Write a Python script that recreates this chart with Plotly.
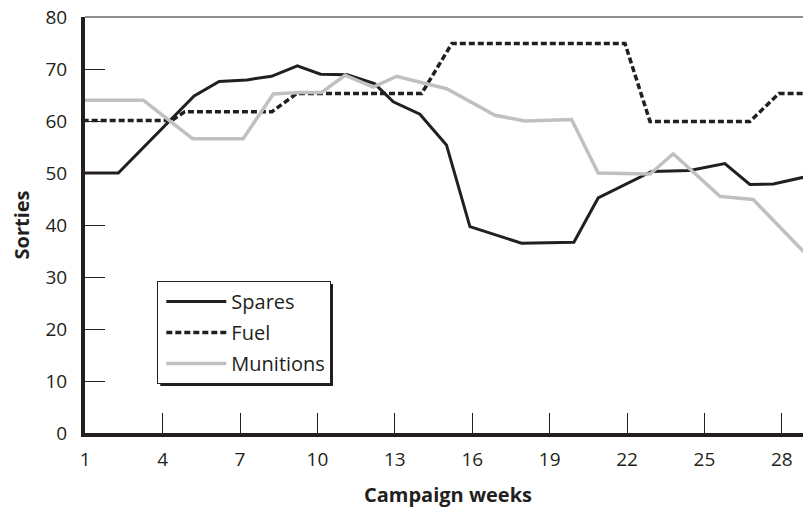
"""Sorties by campaign week under spares, fuel and munitions constraints."""
import plotly.graph_objects as go

# values (week positions of the line vertices)
spares_weeks = [0.9, 2.28, 5.22, 6.19, 7.26, 8.22, 9.22, 10.12, 11.16, 12.21, 12.94,
                13.97, 15.0, 15.91, 17.91, 19.94, 20.88, 22.95, 24.43, 25.79, 26.76,
                27.67, 29.13]
spares = [50.0, 50.0, 64.8, 67.6, 67.9, 68.6, 70.6, 69.0, 68.9, 67.2, 63.7,
          61.3, 55.4, 39.7, 36.5, 36.7, 45.2, 50.3, 50.5, 51.8, 47.8,
          47.9, 49.5]

fuel_weeks = [0.9, 4.36, 4.86, 8.24, 9.2, 14.04, 15.21, 21.92, 22.89, 26.76,
              27.89, 29.13]
fuel = [60.1, 60.1, 61.8, 61.8, 65.3, 65.3, 74.9, 74.9, 59.9, 59.9,
        65.3, 65.3]

munitions_weeks = [0.9, 3.25, 5.16, 7.12, 8.29, 9.32, 10.16, 11.07, 12.16, 13.07,
                   14.1, 15.01, 16.88, 18.04, 19.85, 20.88, 22.89, 23.79, 25.6,
                   26.89, 29.13]
munitions = [64.0, 64.0, 56.6, 56.6, 65.2, 65.5, 65.5, 68.8, 66.5, 68.6,
             67.3, 66.2, 61.1, 60.0, 60.3, 50.0, 49.8, 53.7, 45.5,
             44.9, 33.4]

week_ticks = list(range(1, 29, 3))
sortie_ticks = list(range(0, 81, 10))

INK = "#231f20"
GREY = "#bfc0c2"
FONT = "Open Sans"

fig = go.Figure()
fig.add_trace(go.Scatter(
    x=spares_weeks, y=spares, name="Spares", mode="lines",
    line=dict(color=INK, width=3), legendgroup="a",
))
fig.add_trace(go.Scatter(
    x=fuel_weeks, y=fuel, name="Fuel", mode="lines",
    line=dict(color=INK, width=3.5, dash="6px,3px"), legendgroup="b",
))
fig.add_trace(go.Scatter(
    x=munitions_weeks, y=munitions, name="Munitions", mode="lines",
    line=dict(color=GREY, width=3.5), legendgroup="c",
))

# thin frame line along the top of the plot area
fig.add_shape(type="line", xref="paper", yref="paper", x0=0, x1=1, y0=1, y1=1,
              line=dict(color=INK, width=1))
# drop shadow behind the legend box
fig.add_shape(type="rect", xref="paper", yref="paper",
              x0=0.1037, x1=0.3416, y0=0.113, y1=0.3582,
              line=dict(width=0), fillcolor=INK, layer="above")

# the page adds an 8px body margin; keep the figure small enough to avoid scrollbars
fig.update_layout(
    width=803, height=500,
    margin=dict(l=77, r=0, t=9, b=75),
    paper_bgcolor="white", plot_bgcolor="white",
    font=dict(family=FONT, size=19, color=INK),
    showlegend=True,
    legend=dict(
        x=0.0996, y=0.3654, xanchor="left", yanchor="top",
        bgcolor="white", bordercolor=INK, borderwidth=1,
        itemwidth=60, tracegroupgap=2, traceorder="grouped", indentation=3,
        font=dict(family=FONT, size=20, color=INK),
    ),
    xaxis=dict(
        range=[0.99, 29.13], tickvals=week_ticks, automargin=False,
        ticks="inside", ticklen=20, tickwidth=1, tickcolor=INK,
        showline=True, linewidth=3.5, linecolor=INK,
        showgrid=False, zeroline=False, ticklabelstandoff=6,
        ticklabeloverflow="allow",
        title=dict(text="<b>Campaign weeks</b>", standoff=20,
                   font=dict(family=FONT, size=20, color=INK)),
    ),
    yaxis=dict(
        range=[0, 80], tickvals=sortie_ticks, automargin=False,
        ticks="inside", ticklen=20, tickwidth=1, tickcolor=INK,
        showline=True, linewidth=4, linecolor=INK,
        showgrid=False, zeroline=False, ticklabelstandoff=10,
        ticklabeloverflow="allow",
        title=dict(text="<b>Sorties</b>", standoff=26,
                   font=dict(family=FONT, size=20, color=INK)),
    ),
)

fig.write_html("out.html")
